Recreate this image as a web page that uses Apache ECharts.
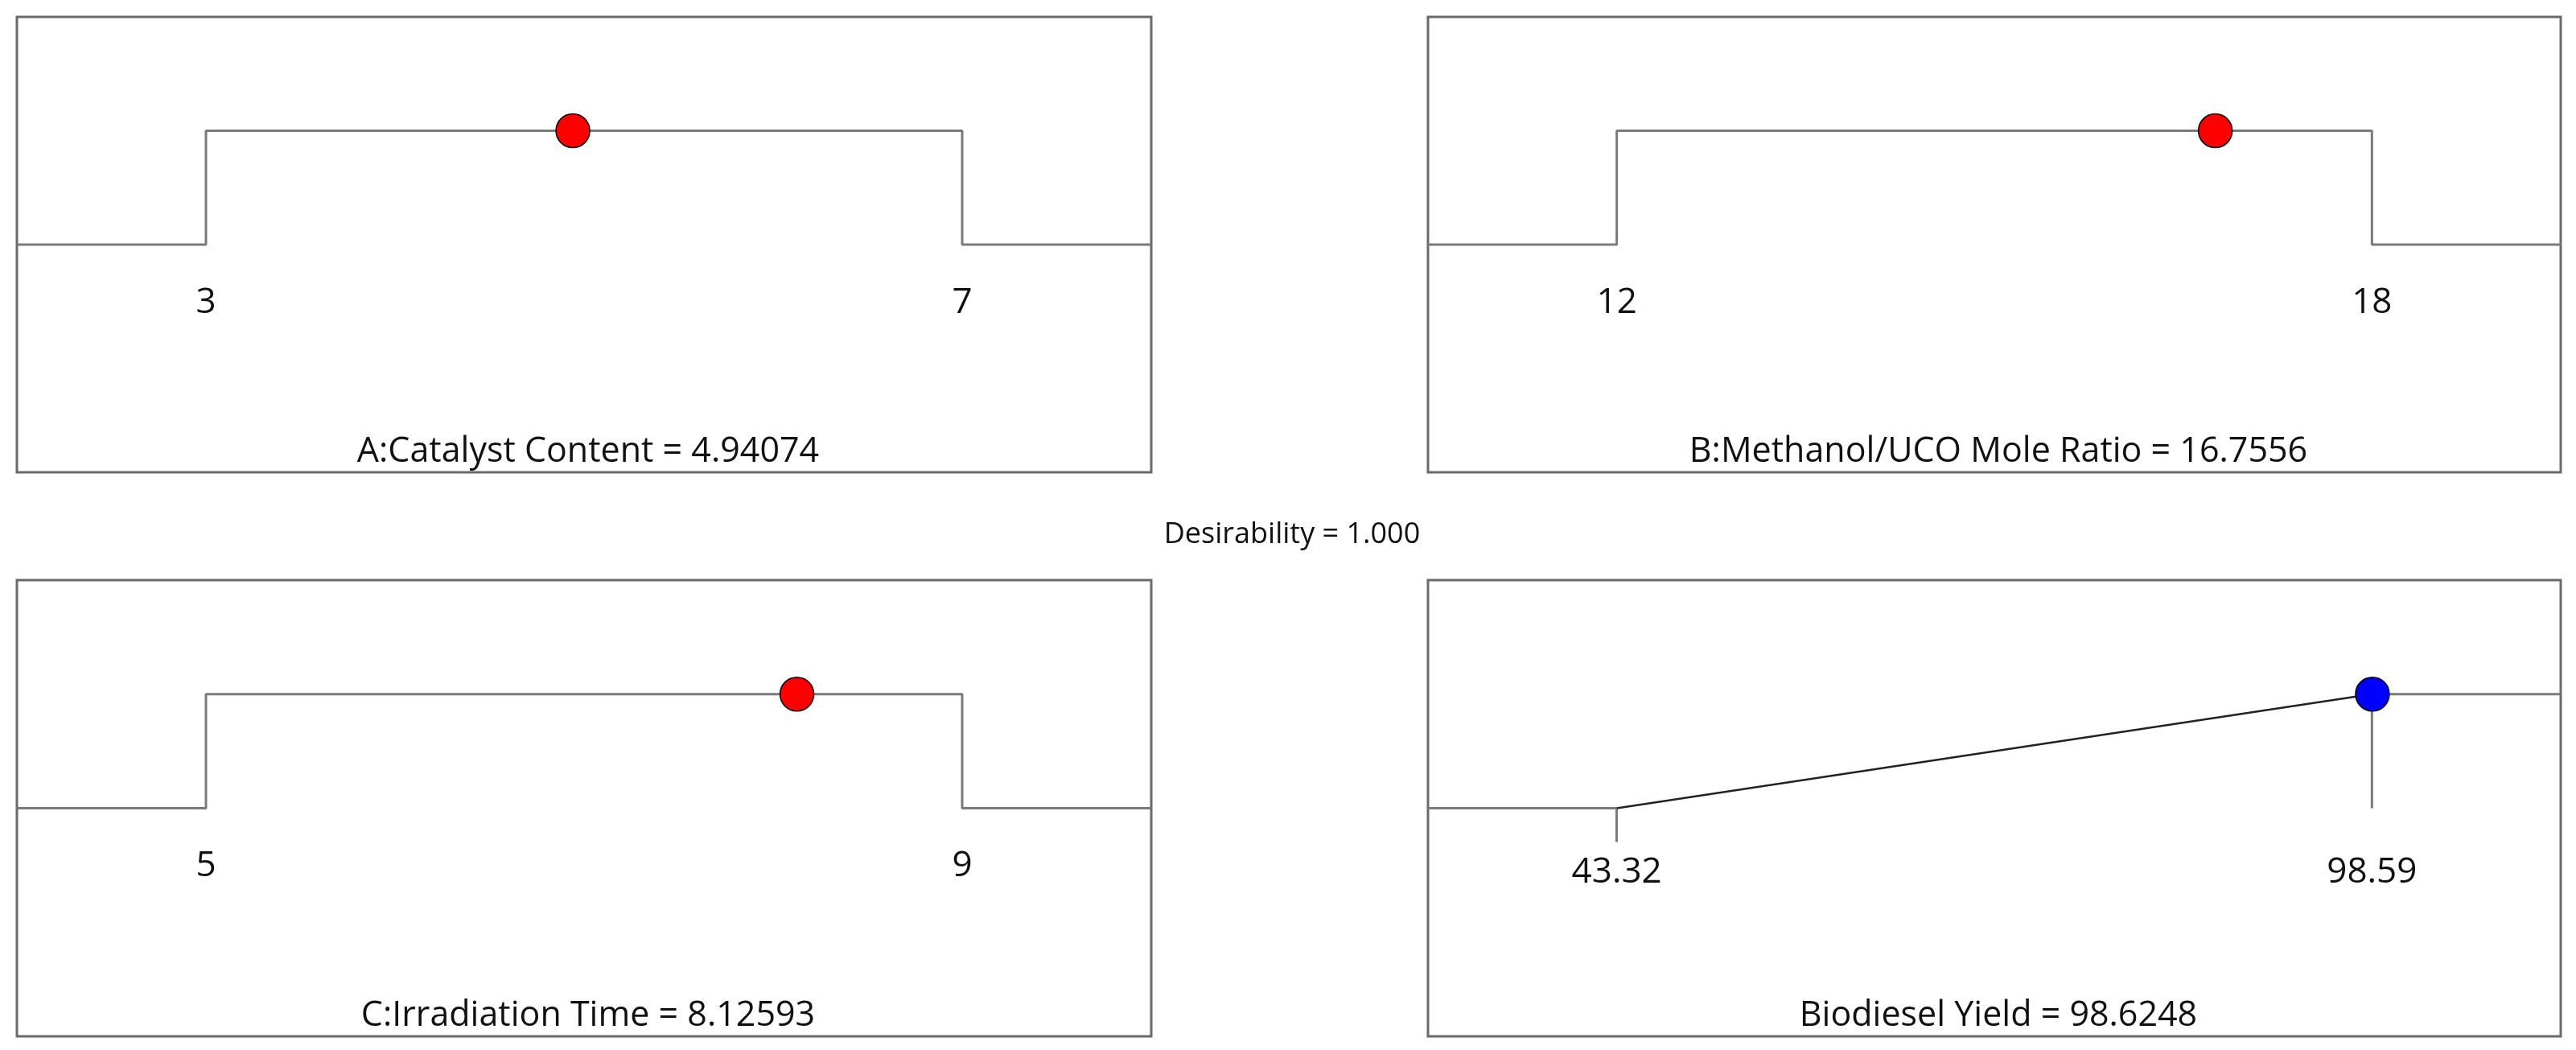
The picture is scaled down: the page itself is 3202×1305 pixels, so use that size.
<!DOCTYPE html>
<html>
<head>
<meta charset="utf-8">
<title>Desirability ramps</title>
<script src="https://cdn.jsdelivr.net/npm/echarts@6/dist/echarts.min.js"></script>
<style>
  html, body { margin: 0; padding: 0; background: #fff; }
  #chart { width: 3202px; height: 1305px; }
</style>
</head>
<body>
<div id="chart"></div>
<script>
// factors (goal: in range)
var factorNames = ['A:Catalyst Content', 'B:Methanol/UCO Mole Ratio', 'C:Irradiation Time'];
var factorLow = [3, 12, 5];
var factorHigh = [7, 18, 9];
var factorOptimum = [4.94074, 16.7556, 8.12593];
var factorDesirability = [1, 1, 1];

// response (goal: maximize)
var responseName = 'Biodiesel Yield';
var responseLow = 43.32;
var responseHigh = 98.59;
var responsePredicted = 98.6248;
var responseDesirability = 1;

var overallDesirability = 1.000;

// panel boxes [left, top, width, height]
var boxes = [
  [21, 21, 1410, 566],
  [1775, 21, 1408, 566],
  [21, 721, 1410, 567],
  [1775, 721, 1408, 567]
];

var FONT = '"Open Sans", "Noto Sans", sans-serif';
var LINE = '#7a7a7a';

function fmt(v) { return String(v); }

var grids = [], xAxes = [], yAxes = [], series = [], titles = [];

function addPanel(i, lo, hi, label) {
  var b = boxes[i];
  var pad = (hi - lo) / 4;
  grids.push({
    left: b[0], top: b[1], width: b[2], height: b[3],
    containLabel: false, outerBoundsMode: 'none',
    show: true, borderColor: '#6a6a6a', borderWidth: 3, backgroundColor: '#fff'
  });
  // y range is symmetric, so the desirability-0 line sits at mid height
  xAxes.push({
    gridIndex: i, type: 'value', min: lo - pad, max: hi + pad,
    position: 'bottom', offset: -b[3] / 2,
    splitLine: { show: false },
    axisLine: { show: false, onZero: false },
    axisTick: { show: false },
    axisLabel: {
      customValues: [lo, hi], margin: 50, fontSize: 44, color: '#111',
      fontFamily: FONT, formatter: fmt, showMinLabel: true, showMaxLabel: true
    }
  });
  yAxes.push({
    gridIndex: i, type: 'value', min: -2, max: 2,
    axisLine: { show: false }, axisTick: { show: false },
    axisLabel: { show: false }, splitLine: { show: false }
  });
  titles.push({
    text: label, left: b[0] + b[2] / 2, top: b[1] + b[3] - 56, textAlign: 'center',
    textStyle: { fontSize: 43, fontWeight: 'normal', color: '#111', fontFamily: FONT, lineHeight: 52 }
  });
}

for (var i = 0; i < 3; i++) {
  var lo = factorLow[i], hi = factorHigh[i], pad = (hi - lo) / 4;
  addPanel(i, lo, hi, factorNames[i] + ' = ' + factorOptimum[i]);
  series.push({
    type: 'line', xAxisIndex: i, yAxisIndex: i, symbol: 'none', silent: true,
    lineStyle: { color: LINE, width: 3 },
    data: [[lo - pad, 0], [lo, 0], [lo, 1], [hi, 1], [hi, 0], [hi + pad, 0]]
  });
  series.push({
    type: 'scatter', xAxisIndex: i, yAxisIndex: i, symbolSize: 42, z: 5,
    itemStyle: { color: '#ff0000', opacity: 1, borderColor: '#000', borderWidth: 1.5 },
    data: [[factorOptimum[i], factorDesirability[i]]]
  });
}

// response panel
(function () {
  var lo = responseLow, hi = responseHigh, pad = (hi - lo) / 4;
  addPanel(3, lo, hi, responseName + ' = ' + responsePredicted);
  xAxes[3].axisTick = {
    show: true, customValues: [lo], length: 42,
    lineStyle: { color: LINE, width: 3 }
  };
  xAxes[3].axisLabel.margin = 58;
  series.push({
    type: 'line', xAxisIndex: 3, yAxisIndex: 3, symbol: 'none', silent: true,
    lineStyle: { color: LINE, width: 3 },
    data: [[lo - pad, 0], [lo, 0]]
  });
  series.push({
    type: 'line', xAxisIndex: 3, yAxisIndex: 3, symbol: 'none', silent: true,
    lineStyle: { color: '#222', width: 2.5 },
    data: [[lo, 0], [hi, 1]]
  });
  series.push({
    type: 'line', xAxisIndex: 3, yAxisIndex: 3, symbol: 'none', silent: true,
    lineStyle: { color: LINE, width: 3 },
    data: [[hi, 1], [hi + pad, 1]]
  });
  series.push({
    type: 'line', xAxisIndex: 3, yAxisIndex: 3, symbol: 'none', silent: true,
    lineStyle: { color: LINE, width: 3 },
    data: [[hi, 0], [hi, 1]]
  });
  series.push({
    type: 'scatter', xAxisIndex: 3, yAxisIndex: 3, symbolSize: 42, z: 5,
    itemStyle: { color: '#0000ff', opacity: 1, borderColor: '#000', borderWidth: 1.5 },
    data: [[Math.min(responsePredicted, hi + pad), responseDesirability]]
  });
})();

titles.push({
  text: 'Desirability = ' + overallDesirability.toFixed(3),
  left: 1601, top: 660 - 22, textAlign: 'center',
  textStyle: { fontSize: 36, fontWeight: 'normal', color: '#111', fontFamily: FONT, lineHeight: 44 }
});

var chart = echarts.init(document.getElementById('chart'));
chart.setOption({
  animation: false,
  backgroundColor: '#fff',
  title: titles,
  grid: grids,
  xAxis: xAxes,
  yAxis: yAxes,
  series: series
});
</script>
</body>
</html>
